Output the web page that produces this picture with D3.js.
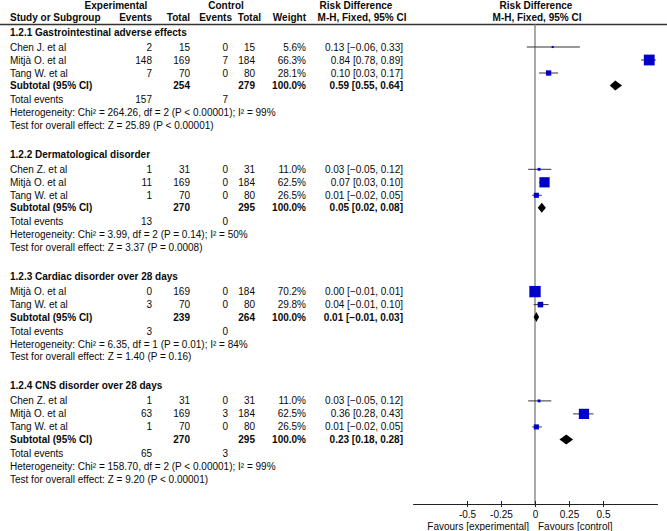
<!DOCTYPE html>
<html>
<head>
<meta charset="utf-8">
<script src="https://cdn.jsdelivr.net/npm/d3@7"></script>
<style>
  html, body { margin: 0; padding: 0; background: #fff; }
  svg { display: block; font-family: "Liberation Sans", Arial, sans-serif; font-size: 10px; }
  .b { font-weight: bold; }
</style>
</head>
<body>
<svg id="chart" width="667" height="531"></svg>
<script>
// ---------- DATA ----------
const subgroupTitles = [
  "1.2.1 Gastrointestinal adverse effects",
  "1.2.2 Dermatological disorder",
  "1.2.3 Cardiac disorder over 28 days",
  "1.2.4 CNS disorder over 28 days"
];
const studyNames = [
  ["Chen J. et al", "Mitjà O. et al", "Tang W. et al"],
  ["Chen Z. et al", "Mitjà O. et al", "Tang W. et al"],
  ["Mitjà O. et al", "Tang W. et al"],
  ["Chen Z. et al", "Mitjà O. et al", "Tang W. et al"]
];
const expEvents  = [[2, 148, 7], [1, 11, 1], [0, 3], [1, 63, 1]];
const expTotals  = [[15, 169, 70], [31, 169, 70], [169, 70], [31, 169, 70]];
const ctrlEvents = [[0, 7, 0], [0, 0, 0], [0, 0], [0, 3, 0]];
const ctrlTotals = [[15, 184, 80], [31, 184, 80], [184, 80], [31, 184, 80]];
const weights    = [[5.6, 66.3, 28.1], [11.0, 62.5, 26.5], [70.2, 29.8], [11.0, 62.5, 26.5]];
const riskDiff   = [[0.13, 0.84, 0.10], [0.03, 0.07, 0.01], [0.00, 0.04], [0.03, 0.36, 0.01]];
const ciLower    = [[-0.06, 0.78, 0.03], [-0.05, 0.03, -0.02], [-0.01, -0.01], [-0.05, 0.28, -0.02]];
const ciUpper    = [[0.33, 0.89, 0.17], [0.12, 0.10, 0.05], [0.01, 0.10], [0.12, 0.43, 0.05]];
const subExpTotal  = [254, 270, 239, 270];
const subCtrlTotal = [279, 295, 264, 295];
const subRiskDiff  = [0.59, 0.05, 0.01, 0.23];
const subLower     = [0.55, 0.02, -0.01, 0.18];
const subUpper     = [0.64, 0.08, 0.03, 0.28];
const totalExpEvents  = [157, 13, 3, 65];
const totalCtrlEvents = [7, 0, 0, 3];
const heterogeneity = [
  "Chi² = 264.26, df = 2 (P < 0.00001); I² = 99%",
  "Chi² = 3.99, df = 2 (P = 0.14); I² = 50%",
  "Chi² = 6.35, df = 1 (P = 0.01); I² = 84%",
  "Chi² = 158.70, df = 2 (P < 0.00001); I² = 99%"
];
const overallEffect = [
  "Z = 25.89 (P < 0.00001)",
  "Z = 3.37 (P = 0.0008)",
  "Z = 1.40 (P = 0.16)",
  "Z = 9.20 (P < 0.00001)"
];
const axisTicks = [-0.5, -0.25, 0, 0.25, 0.5];
const tickLabels = ["-0.5", "-0.25", "0", "0.25", "0.5"];
const axisDomain = [-0.9, 0.9];

// ---------- LAYOUT ----------
const svg = d3.select("#chart");
const colX = { name: 10, expEv: 152, expTot: 190, ctrlEv: 228, ctrlTot: 255, weight: 306, rd: 403 };
const x = d3.scaleLinear().domain(axisDomain).range([412.6, 657.4]);
const sq = d3.scaleLinear().domain([0, 100]).range([1.3, 15.6]);
const f2 = d3.format(".2f");
const f1 = d3.format(".1f");
const ciText = (m, l, u) => `${f2(m)} [${f2(l)}, ${f2(u)}]`;
const headerLineY = 24.5, axisY = 504;
const steps = { first: 32, toStudy: 15, study: 13, toSub: 12.5, toTotal: 14, toHet: 13, toTest: 12.8, gap: 29 };

function txt(xp, yp, s, anchor, bold) {
  svg.append("text").attr("x", xp).attr("y", yp).attr("dy", "0.35em")
    .attr("text-anchor", anchor || "start").attr("class", bold ? "b" : null)
    .attr("fill", "#0a0a0a").text(s);
}

// headers
txt(116, 5.5, "Experimental", "middle", true);
txt(226, 5.5, "Control", "middle", true);
txt(356, 5.5, "Risk Difference", "middle", true);
txt(536, 5.5, "Risk Difference", "middle", true);
txt(colX.name, 17.5, "Study or Subgroup", "start", true);
txt(colX.expEv, 17.5, "Events", "end", true);
txt(colX.expTot, 17.5, "Total", "end", true);
txt(232, 17.5, "Events", "end", true);
txt(261, 17.5, "Total", "end", true);
txt(colX.weight, 17.5, "Weight", "end", true);
txt(362, 17.5, "M-H, Fixed, 95% CI", "middle", true);
txt(537, 17.5, "M-H, Fixed, 95% CI", "middle", true);

svg.append("line").attr("x1", 0).attr("x2", 667).attr("y1", headerLineY).attr("y2", headerLineY)
  .attr("stroke", "#333").attr("stroke-width", 1.3);

// zero line
svg.append("line").attr("x1", x(0)).attr("x2", x(0)).attr("y1", headerLineY).attr("y2", axisY)
  .attr("stroke", "#8c8c8c").attr("stroke-width", 1.5);

const marks = svg.append("g");
let y = steps.first;
subgroupTitles.forEach((title, g) => {
  txt(colX.name, y, title, "start", true);
  y += steps.toStudy;
  studyNames[g].forEach((nm, i) => {
    txt(colX.name, y, nm);
    txt(colX.expEv, y, expEvents[g][i], "end");
    txt(colX.expTot, y, expTotals[g][i], "end");
    txt(colX.ctrlEv, y, ctrlEvents[g][i], "end");
    txt(colX.ctrlTot, y, ctrlTotals[g][i], "end");
    txt(colX.weight, y, f1(weights[g][i]) + "%", "end");
    txt(colX.rd, y, ciText(riskDiff[g][i], ciLower[g][i], ciUpper[g][i]), "end");
    marks.append("line").attr("x1", x(ciLower[g][i])).attr("x2", x(ciUpper[g][i]))
      .attr("y1", y).attr("y2", y).attr("stroke", "#333").attr("stroke-width", 1);
    const s = sq(weights[g][i]);
    marks.append("rect").attr("x", x(riskDiff[g][i]) - s / 2).attr("y", y - s / 2)
      .attr("width", s).attr("height", s).attr("fill", "#0000c8");
    y += steps.study;
  });
  y += steps.toSub - steps.study;
  txt(colX.name, y, "Subtotal (95% CI)", "start", true);
  txt(colX.expTot, y, subExpTotal[g], "end", true);
  txt(colX.ctrlTot, y, subCtrlTotal[g], "end", true);
  txt(colX.weight, y, "100.0%", "end", true);
  txt(colX.rd, y, ciText(subRiskDiff[g], subLower[g], subUpper[g]), "end", true);
  const dh = 5;
  marks.append("path")
    .attr("d", `M${x(subLower[g])},${y} L${x(subRiskDiff[g])},${y - dh} L${x(subUpper[g])},${y} L${x(subRiskDiff[g])},${y + dh} Z`)
    .attr("fill", "#000");
  y += steps.toTotal;
  txt(colX.name, y, "Total events");
  txt(colX.expEv, y, totalExpEvents[g], "end");
  txt(colX.ctrlEv, y, totalCtrlEvents[g], "end");
  y += steps.toHet;
  txt(colX.name, y, "Heterogeneity: " + heterogeneity[g]);
  y += steps.toTest;
  txt(colX.name, y, "Test for overall effect: " + overallEffect[g]);
  y += steps.gap;
});

// axis
const axis = d3.axisBottom(x).tickValues(axisTicks).tickFormat((d, i) => tickLabels[i])
  .tickSizeInner(3).tickSizeOuter(0).tickPadding(4);
const ag = svg.append("g").attr("transform", `translate(0,${axisY})`).call(axis);
ag.select(".domain").attr("stroke", "#222").attr("stroke-width", 1.2);
ag.selectAll(".tick line").attr("y1", -3).attr("y2", 3).attr("stroke", "#222");
ag.selectAll(".tick text").attr("font-size", 10).attr("font-family", "Liberation Sans, Arial, sans-serif")
  .attr("fill", "#0a0a0a").attr("y", 7).attr("dy", "0.71em");

txt(529, 526, "Favours [experimental]", "end");
txt(538, 526, "Favours [control]", "start");
</script>
</body>
</html>
